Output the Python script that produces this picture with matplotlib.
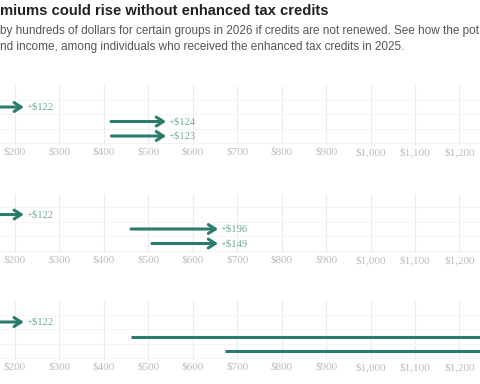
import matplotlib
matplotlib.use("Agg")
from matplotlib import pyplot as plt

# premiums before (2025) and increase if credits lapse, three rows per panel
start_1 = [98, 416, 417]
rise_1 = [122, 124, 123]
start_2 = [98, 461, 508]
rise_2 = [122, 196, 149]
start_3 = [98, 461, 672]
rise_3 = [122, 1100, 1050]

ticks = [200, 300, 400, 500, 600, 700, 800, 900, 1000, 1100, 1200]
tick_labels = ['$200', '$300', '$400', '$500', '$600', '$700', '$800',
               '$900', '$1,000', '$1,100', '$1,200']

title = "miums could rise without enhanced tax credits"
sub1 = ("by hundreds of dollars for certain groups in 2026 if credits are not renewed. "
        "See how the pot")
sub2 = "nd income, among individuals who received the enhanced tax credits in 2025."

GREEN = '#2b7c6c'
LABEL = '#6fa99b'
GRID = '#ececec'
TICK = '#bdbdbd'

W, H = 480, 384
fig = plt.figure(figsize=(4.8, 3.84), dpi=100)

fig.text(0, 1 - 11 / H, title, fontsize=10.6, fontweight='bold', color='#222222',
         family='Liberation Sans', va='center', ha='left')
fig.text(0, 1 - 31 / H, sub1, fontsize=8.5, color='#555555',
         family='Liberation Sans', va='center', ha='left')
fig.text(0, 1 - 47 / H, sub2, fontsize=8.5, color='#555555',
         family='Liberation Sans', va='center', ha='left')

panels = [(start_1, rise_1), (start_2, rise_2), (start_3, rise_3)]
xmin = 200 - 15 / 0.4444
xmax = 200 + 465 / 0.4444

for k, (starts, rises) in enumerate(panels):
    top = 86 + 107.5 * k
    bottom = 145 + 107.5 * k
    ax = fig.add_axes([0, 1 - bottom / H, 1, (bottom - top) / H])
    ax.set_xlim(xmin, xmax)
    ax.set_ylim(2.62, -1.45)
    for y, (s, r) in enumerate(zip(starts, rises)):
        e = s + r
        if e <= xmax:
            ax.annotate('', xy=(e, y), xytext=(s, y), annotation_clip=False,
                        arrowprops=dict(arrowstyle='->,head_length=0.5,head_width=0.32',
                                        lw=2.2, color=GREEN, shrinkA=0, shrinkB=0))
            ax.text(e + 6, y, '+${:,}'.format(r), color=LABEL, fontsize=7.6,
                    family='Liberation Serif', va='center', ha='left')
        else:
            # runs past the right edge: only the shaft is visible
            ax.plot([s, e], [y, y], color=GREEN, lw=2.2, solid_capstyle='butt')
    for t in ticks:
        ax.axvline(t, color=GRID, lw=0.8, zorder=0)
    for g in [-0.5, 0.5, 1.5, 2.5]:
        ax.axhline(g, color='#f3f3f3', lw=0.6, zorder=0)
    ax.set_xticks(ticks)
    ax.set_xticklabels(tick_labels, fontsize=8, color=TICK, family='Liberation Serif')
    ax.tick_params(axis='x', length=0, pad=2)
    ax.set_yticks([])
    for sp in ax.spines.values():
        sp.set_visible(False)

fig.savefig('out.png', dpi=100)
